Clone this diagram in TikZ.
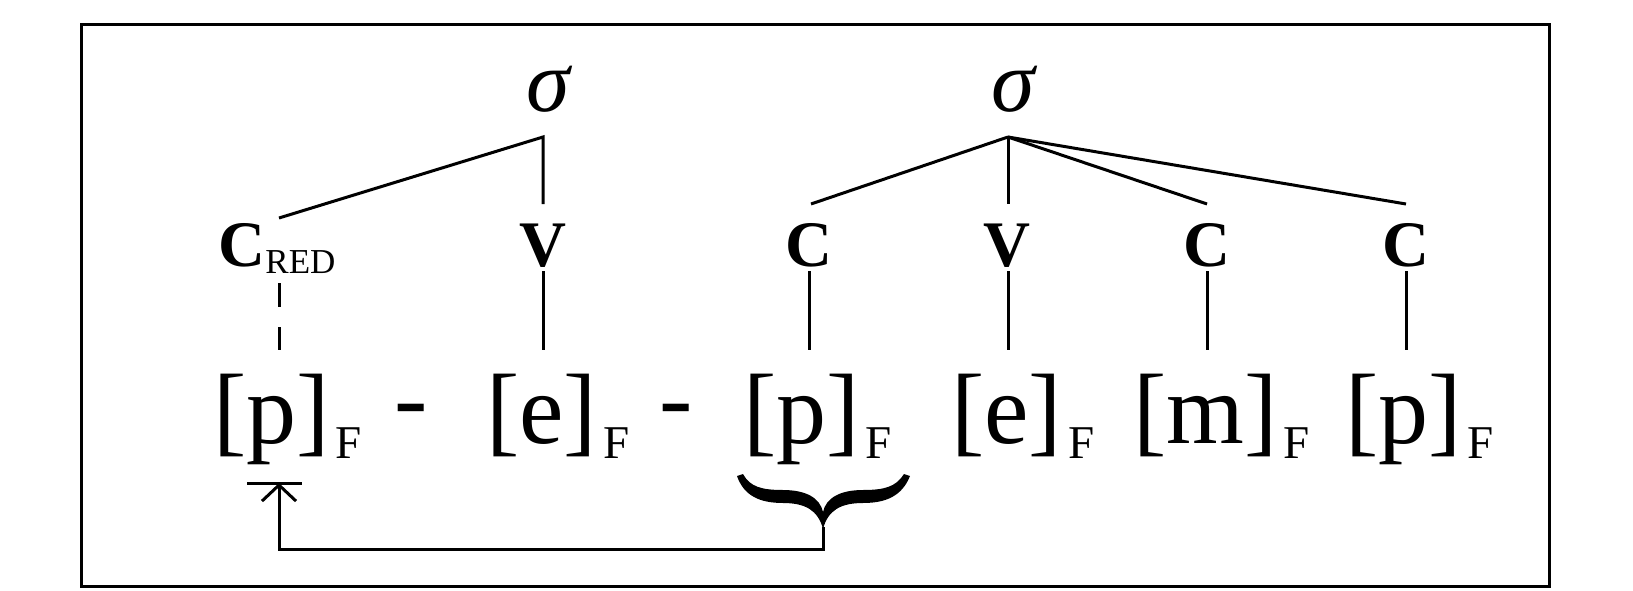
\documentclass[tikz,border=0pt]{standalone}
\usepackage{fontspec}
\setmainfont{Liberation Serif}
\usetikzlibrary{arrows.meta}
\begin{document}
\begin{tikzpicture}[x=1pt,y=-1pt,
  sig/.style={inner sep=0pt, anchor=base, font=\fontsize{88}{92}\selectfont\itshape},
  seg/.style={inner sep=0pt, anchor=base, font=\fontsize{65}{70}\selectfont\bfseries},
  phon/.style={inner sep=0pt, anchor=base west, font=\fontsize{100}{110}\selectfont},
  hyph/.style={inner sep=0pt, anchor=base, font=\fontsize{100}{110}\selectfont},
  assoc/.style={line width=3pt},
  frame/.style={line width=3pt},
]
\useasboundingbox (0,0) rectangle (1633,591);
\fill[white] (0,0) rectangle (1633,591);
\draw[frame] (81,25) rectangle (1549,586);

\newcommand{\subF}{\kern6pt\raisebox{-15pt}{\fontsize{47}{47}\selectfont F}}

% syllables
\node[sig] (s1) at (548,112) {σ};
\node[sig] (s2) at (1013,112) {σ};
\coordinate (s1a) at (543,137);
\coordinate (s2a) at (1008,137);

% skeletal tier
\node[seg] (cred) at (277,266) {C\raisebox{-7pt}{\mdseries\fontsize{35}{35}\selectfont RED}};
\node[seg] (v1) at (543,266) {V};
\node[seg] (c2) at (809,266) {C};
\node[seg] (v2) at (1007,266) {V};
\node[seg] (c3) at (1207,266) {C};
\node[seg] (c4) at (1406,266) {C};

% upper end points
\coordinate (credt) at (279,218);
\coordinate (v1t) at (543,204);
\coordinate (c2t) at (811,204);
\coordinate (v2t) at (1008,204);
\coordinate (c3t) at (1207,204);
\coordinate (c4t) at (1406,204);

\draw[assoc] (credt) -- (s1a) -- (v1t);
\draw[assoc] (s2a) -- (c2t);
\draw[assoc] (s2a) -- (v2t);
\draw[assoc] (s2a) -- (c3t);
\draw[assoc] (s2a) -- (c4t);

% segmental tier
\node[phon] (p1) at (213,443) {[p]\subF};
\node[hyph] (h1) at (411,431) {-};
\node[phon] (e1) at (486,443) {[e]\subF};
\node[hyph] (h2) at (676,431) {-};
\node[phon] (p2) at (743,443) {[p]\subF};
\node[phon] (e2) at (951,443) {[e]\subF};
\node[phon] (m1) at (1133,443) {[m]\subF};
\node[phon] (p3) at (1345,443) {[p]\subF};

% association lines skeleton -> segments
\coordinate (credb) at (279,283);
\coordinate (p1t) at (279,350);
\draw[assoc, dash pattern=on 24pt off 20pt] (credb) -- (p1t);
\foreach \x/\n in {543/v1, 809/c2, 1008/v2, 1207/c3, 1406/c4}{
  \coordinate (\n b) at (\x,271);
  \coordinate (\n s) at (\x,350);
  \draw[assoc] (\n b) -- (\n s);
}

% brace under the copied [p]
\fill (737,476) .. controls (744,496) and (760,503) .. (783,503)
      .. controls (805,503) and (818,510) .. (823,529)
      .. controls (828,510) and (841,503) .. (863,503)
      .. controls (886,503) and (902,496) .. (910,476)
      -- (904,474)
      .. controls (896,487) and (884,490) .. (863,490)
      .. controls (840,490) and (826,498) .. (823,512)
      .. controls (820,498) and (806,490) .. (783,490)
      .. controls (762,490) and (750,487) .. (743,474) -- cycle;
\coordinate (brtip) at (823,527);

% copy arrow
\coordinate (target) at (279,483);
\coordinate (turn) at (279,549);
\draw[assoc] ([xshift=-32pt]target) -- ([xshift=23pt]target);
\draw[assoc, -{Straight Barb[length=16pt,width=34pt]}] (brtip) |- (turn) -- (target);
\end{tikzpicture}
\end{document}
